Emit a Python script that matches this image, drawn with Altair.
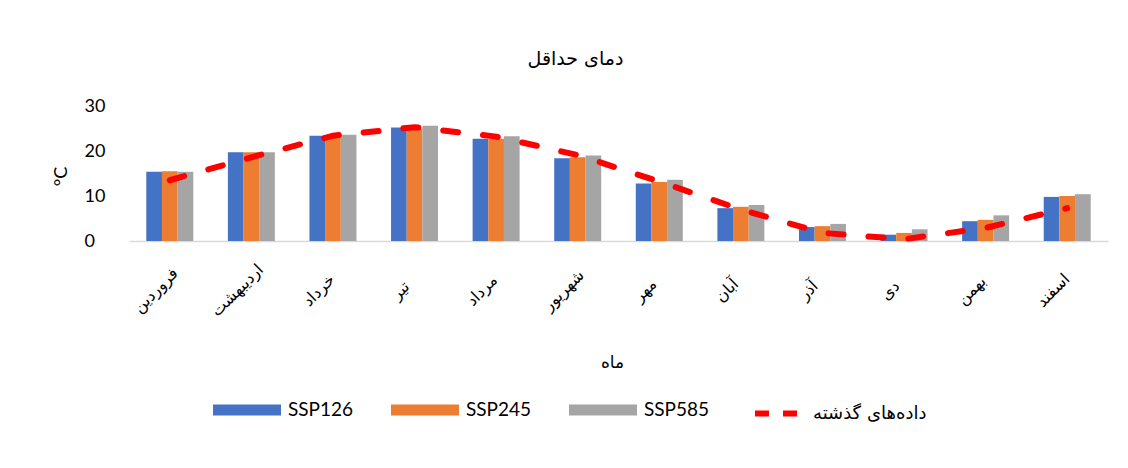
import altair as alt
import pandas as pd

months = ["فروردین", "اردیبهشت", "خرداد", "تیر", "مرداد", "شهریور",
          "مهر", "آبان", "آذر", "دی", "بهمن", "اسفند"]
scenarios = ["SSP126", "SSP245", "SSP585"]
ssp126 = [15.4, 19.7, 23.4, 25.2, 22.7, 18.4, 12.8, 7.3, 3.1, 1.4, 4.4, 9.8]
ssp245 = [15.5, 19.7, 23.4, 25.0, 22.7, 18.6, 13.1, 7.6, 3.3, 1.8, 4.7, 10.0]
ssp585 = [15.4, 19.7, 23.6, 25.6, 23.3, 19.0, 13.6, 8.0, 3.8, 2.6, 5.7, 10.4]
history = [13.5, 18.6, 23.4, 25.3, 23.2, 19.1, 13.2, 7.0, 1.8, 0.4, 2.9, 7.3]
history_label = "داده\u200cهای گذشته"
bar_colors = ["#4472C4", "#ED7D31", "#A5A5A5"]

rows = []
for s, vals in zip(scenarios, [ssp126, ssp245, ssp585]):
    for m, v in zip(months, vals):
        rows.append({"month": m, "scenario": s, "value": v})
bars_df = pd.DataFrame(rows)
line_df = pd.DataFrame({"month": months, "value": history, "series": [history_label] * len(months)})

x_enc = alt.X(
    "month:N", sort=months,
    scale=alt.Scale(paddingInner=0.424, paddingOuter=0.212),
    axis=alt.Axis(
        title="ماه", titleX=483, titleY=121, titleAlign="center", titleBaseline="middle",
        titleFont="DejaVu Sans", titleFontSize=17, titleFontWeight="normal", titleColor="#000000",
        labelAngle=-45, labelAlign="center", labelBaseline="middle", labelPadding=49,
        labelOffset=-14, labelFont="DejaVu Sans", labelFontSize=16, labelColor="#000000",
        ticks=False, tickSize=0, domainColor="#D9D9D9", domainWidth=1.5, grid=False,
    ),
)
y_enc = alt.Y(
    "value:Q",
    scale=alt.Scale(domain=[0, 30], nice=False),
    axis=alt.Axis(
        values=[0, 10, 20, 30], title="°C", titleX=-68, titleY=70, titleAngle=-90,
        titleAlign="center", titleBaseline="middle", titleFont="Lato", titleFontSize=18,
        titleFontWeight="normal", titleColor="#000000",
        labelAlign="left", labelPadding=45, labelFont="Lato", labelFontSize=18,
        labelColor="#000000", labelFlush=False,
        ticks=False, tickSize=0, domain=False, grid=False,
    ),
)

bars = alt.Chart(bars_df).mark_bar().encode(
    x=x_enc,
    y=y_enc,
    xOffset=alt.XOffset("scenario:N", sort=scenarios, scale=alt.Scale(paddingInner=0, paddingOuter=0)),
    color=alt.Color(
        "scenario:N", sort=scenarios,
        scale=alt.Scale(domain=scenarios, range=bar_colors),
        legend=alt.Legend(
            title=None, orient="none", direction="horizontal", legendX=84, legendY=270,
            symbolType="M-1,-0.16L1,-0.16L1,0.16L-1,0.16Z", symbolSize=4624,
            symbolStrokeWidth=0, labelFont="Lato", labelFontSize=19, labelColor="#000000",
            labelOffset=7, columnPadding=37, padding=0,
        ),
    ),
)

line = alt.Chart(line_df).mark_line(
    strokeWidth=6, strokeDash=[15, 25], strokeCap="round",
).encode(
    x=alt.X("month:N", sort=months),
    y=alt.Y("value:Q"),
    stroke=alt.Stroke(
        "series:N",
        scale=alt.Scale(domain=[history_label], range=["#FF0000"]),
        legend=alt.Legend(
            title=None, orient="none", direction="horizontal", legendX=623, legendY=282,
            symbolType="stroke", symbolSize=2025, symbolStrokeWidth=6, symbolDash=[14, 14],
            labelFont="DejaVu Sans", labelFontSize=18, labelColor="#000000",
            labelOffset=10, padding=0,
        ),
    ),
)

chart = alt.layer(bars, line).properties(
    width=979,
    height=135,
    background="white",
    title=alt.TitleParams(
        text="دمای حداقل", font="DejaVu Sans", fontSize=19, fontWeight="normal",
        color="#000000", anchor="middle", dx=-43, offset=28,
    ),
    autosize=alt.AutoSizeParams(type="none"),
    padding={"left": 121, "top": 98, "right": 12, "bottom": 219},
).configure_view(stroke=None)

chart.save("out.html", embed_options={"renderer": "svg", "actions": False})
